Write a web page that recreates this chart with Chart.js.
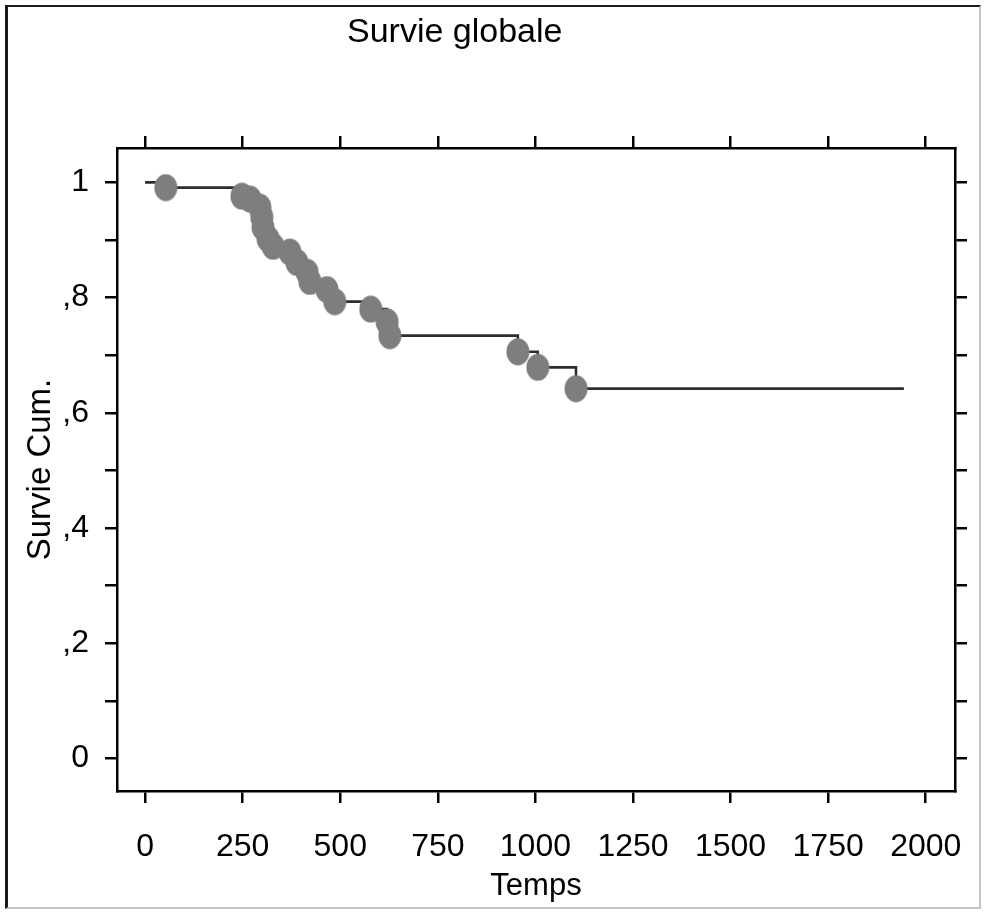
<!DOCTYPE html>
<html lang="fr">
<head>
<meta charset="utf-8">
<title>Survie globale</title>
<script src="https://cdn.jsdelivr.net/npm/chart.js@4.4.1/dist/chart.umd.min.js"></script>
<style>
  html, body { margin: 0; padding: 0; background: #fff; }
  #wrap { position: relative; width: 987px; height: 917px; overflow: hidden; background: #fff; }
  #frame {
    position: absolute; left: 5px; top: 5px; width: 976px; height: 904px;
    box-sizing: border-box;
    border-left: 3px solid #1a1a1a; border-top: 2px solid #1a1a1a;
    border-right: 2px solid #c4c4c4; border-bottom: 2px solid #c4c4c4;
  }
  #km { position: absolute; left: 0; top: 0; }
</style>
</head>
<body>
<div id="wrap">
  <div id="frame"></div>
  <canvas id="km" width="987" height="917"></canvas>
</div>
<script>
// Texts
const chartTitle = 'Survie globale';
const xAxisTitle = 'Temps';
const yAxisTitle = 'Survie Cum.';

// Kaplan-Meier estimate: time of each drop and the survival level after it
const eventTimes = [53, 248, 269, 294, 299, 302, 315, 328, 371, 389, 415, 422, 466, 486, 578, 620, 627, 955, 1006, 1104];
const survival   = [0.991, 0.976, 0.971, 0.957, 0.940, 0.922, 0.902, 0.889, 0.879, 0.861, 0.844, 0.828, 0.814, 0.793, 0.780, 0.758, 0.734, 0.706, 0.679, 0.642];
const startTime = 0;
const startSurvival = 1;
const followUpEnd = 1944;

// Axis ticks
const xTicks = [0, 250, 500, 750, 1000, 1250, 1500, 1750, 2000];
const yTicks = [0, 0.1, 0.2, 0.3, 0.4, 0.5, 0.6, 0.7, 0.8, 0.9, 1];
const yTickLabels = ['0', '', ',2', '', ',4', '', ',6', '', ',8', '', '1'];

// Layout of the plotting box inside the canvas
const AREA = { left: 117, top: 148, right: 955, bottom: 791 };
const CANVAS_W = 987, CANVAS_H = 917;
const X_RANGE = { min: -72, max: 2075 };
const Y_RANGE = { min: -0.0563, max: 1.0597 };

const FONT = "'Liberation Sans', Arial, Helvetica, sans-serif";
Chart.defaults.font.family = FONT;
Chart.defaults.color = '#000';

// Slightly tall oval marker used for every death
function makeMarker(w, h, color) {
  const c = document.createElement('canvas');
  c.width = w; c.height = h;
  const g = c.getContext('2d');
  g.fillStyle = color;
  g.beginPath();
  g.ellipse(w / 2, h / 2, w / 2 - 0.5, h / 2 - 0.5, 0, 0, Math.PI * 2);
  g.fill();
  return c;
}
const marker = makeMarker(24, 28, '#7e7e7e');

const markerPoints = eventTimes.map((t, i) => ({ x: t, y: survival[i] }));
const curvePoints = [{ x: startTime, y: startSurvival }]
  .concat(markerPoints)
  .concat([{ x: followUpEnd, y: survival[survival.length - 1] }]);

const tickGrid = {
  display: true,
  drawOnChartArea: false,
  drawTicks: true,
  tickLength: 12,
  color: '#000',
  lineWidth: 2.5
};
const axisBorder = { display: true, color: '#000', width: 2.5 };

function setTicks(values) {
  return scale => { scale.ticks = values.map(v => ({ value: v })); };
}
function noPad(scale) {
  scale.paddingLeft = 0; scale.paddingRight = 0;
  scale.paddingTop = 0; scale.paddingBottom = 0;
}

// Main title written at a fixed spot above the plot
const titlePlugin = {
  id: 'figureTitle',
  afterDraw(chart) {
    const ctx = chart.ctx;
    ctx.save();
    ctx.font = '34px ' + FONT;
    ctx.fillStyle = '#000';
    ctx.textAlign = 'left';
    ctx.textBaseline = 'alphabetic';
    ctx.fillText(chartTitle, 347, 42);
    ctx.restore();
  }
};

new Chart(document.getElementById('km'), {
  type: 'line',
  data: {
    datasets: [
      {
        label: 'Décès',
        type: 'scatter',
        data: markerPoints,
        showLine: false,
        pointStyle: marker,
        pointRadius: 13,
        pointHoverRadius: 13,
        order: 0
      },
      {
        label: 'Survie',
        data: curvePoints,
        stepped: 'before',
        borderColor: '#2e2e2e',
        borderWidth: 2.6,
        pointRadius: 0,
        fill: false,
        order: 1
      }
    ]
  },
  options: {
    responsive: false,
    animation: false,
    devicePixelRatio: 1,
    layout: { padding: 0 },
    plugins: {
      legend: { display: false },
      tooltip: { enabled: false },
      title: { display: false }
    },
    scales: {
      x: {
        type: 'linear',
        position: 'bottom',
        min: X_RANGE.min, max: X_RANGE.max,
        afterBuildTicks: setTicks(xTicks),
        afterFit: s => { s.height = CANVAS_H - AREA.bottom; noPad(s); },
        grid: tickGrid,
        border: axisBorder,
        ticks: {
          font: { size: 32 },
          color: '#000',
          padding: 25,
          maxRotation: 0,
          autoSkip: false,
          callback: v => String(v)
        },
        title: {
          display: true,
          text: xAxisTitle,
          font: { size: 31 },
          color: '#000',
          padding: { top: 0, bottom: 12 }
        }
      },
      x2: {
        type: 'linear',
        position: 'top',
        min: X_RANGE.min, max: X_RANGE.max,
        afterBuildTicks: setTicks(xTicks),
        afterFit: s => { s.height = AREA.top; noPad(s); },
        grid: tickGrid,
        border: axisBorder,
        ticks: { display: false }
      },
      y: {
        type: 'linear',
        position: 'left',
        min: Y_RANGE.min, max: Y_RANGE.max,
        afterBuildTicks: setTicks(yTicks),
        afterFit: s => { s.width = AREA.left; noPad(s); },
        grid: tickGrid,
        border: axisBorder,
        ticks: {
          font: { size: 32 },
          color: '#000',
          padding: 16,
          autoSkip: false,
          callback: (v, i) => yTickLabels[i]
        },
        title: {
          display: true,
          text: yAxisTitle,
          font: { size: 33 },
          color: '#000',
          padding: { top: 21, bottom: 0 }
        }
      },
      y2: {
        type: 'linear',
        position: 'right',
        min: Y_RANGE.min, max: Y_RANGE.max,
        afterBuildTicks: setTicks(yTicks),
        afterFit: s => { s.width = CANVAS_W - AREA.right; noPad(s); },
        grid: tickGrid,
        border: axisBorder,
        ticks: { display: false }
      }
    }
  },
  plugins: [titlePlugin]
});
</script>
</body>
</html>
